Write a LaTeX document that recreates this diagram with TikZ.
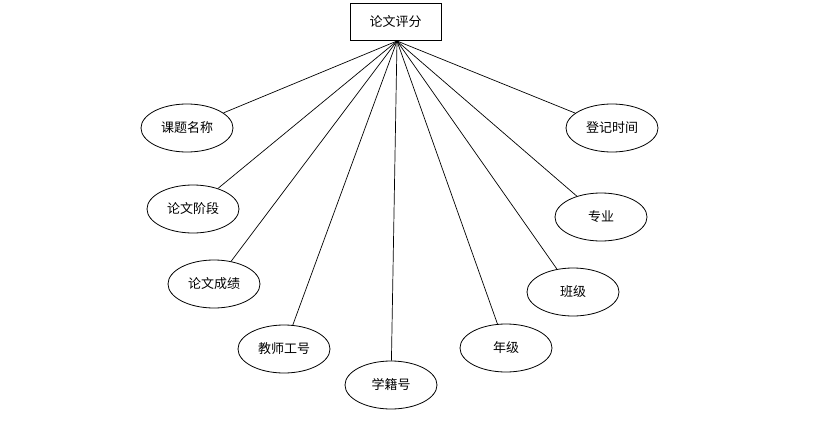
\documentclass[tikz,border=0pt]{standalone}
\usepackage{fontspec}
\setmainfont{Noto Sans CJK SC}
\usetikzlibrary{shapes, positioning}

\begin{document}
\begin{tikzpicture}[
  x=1pt, y=-1pt,
  entity/.style={draw, rectangle, minimum width=91pt, minimum height=37pt, inner sep=0pt, font=\fontsize{13}{15}\selectfont, line width=0.8pt},
  attr/.style={draw, ellipse, minimum width=92pt, minimum height=48pt, inner sep=0pt, font=\fontsize{13}{15}\selectfont, line width=0.8pt},
  link/.style={line width=0.7pt}
]
  \useasboundingbox (0,0) rectangle (823,423);

  \node[entity] (score) at (395.5, 21.5) {论文评分};
  \coordinate (hub) at (397, 41);

  \node[attr] (topic) at (187, 128) {课题名称};
  \node[attr] (stage) at (193, 209) {论文阶段};
  \node[attr] (grade) at (214, 284) {论文成绩};
  \node[attr] (teacher) at (284, 349) {教师工号};
  \node[attr] (stuno) at (391, 385) {学籍号};
  \node[attr] (year) at (506, 348) {年级};
  \node[attr] (class) at (573, 292) {班级};
  \node[attr] (major) at (601, 217) {专业};
  \node[attr] (regtime) at (612, 128) {登记时间};

  \foreach \a in {topic, stage, grade, teacher, stuno, year, class, major, regtime}
    \draw[link] (hub) -- (\a);
\end{tikzpicture}
\end{document}
